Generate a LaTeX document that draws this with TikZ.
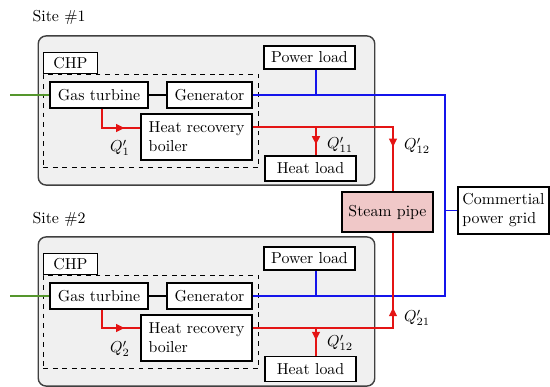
\documentclass[tikz,border=0pt]{standalone}
\usepackage{tikz}
\usetikzlibrary{positioning,arrows.meta,fit,decorations.markings}
\definecolor{sitegray}{RGB}{240,240,240}
\definecolor{pipepink}{RGB}{240,200,200}
\definecolor{heatred}{RGB}{228,20,20}
\definecolor{powerblue}{RGB}{20,20,235}
\definecolor{fuelgreen}{RGB}{85,150,45}
\tikzset{
    sitebox/.style={draw=black!75, fill=sitegray, rounded corners=5pt, line width=0.9pt, minimum width=212pt, minimum height=94pt},
    unitbox/.style={draw, fill=white, line width=0.9pt, align=left, inner sep=2pt},
    chpbox/.style={draw, dashed, line width=0.7pt, inner xsep=3.8pt, inner ysep=4.2pt},
    chptab/.style={draw, fill=white, line width=0.9pt, minimum width=34pt, minimum height=13.2pt, inner sep=1pt},
    pipebox/.style={draw, fill=pipepink, line width=0.9pt, minimum width=57.3pt, minimum height=25.2pt},
    qlabel/.style={inner sep=1pt},
    fuelline/.style={draw=fuelgreen, line width=1pt},
    shaftline/.style={draw, line width=1.2pt},
    powerline/.style={draw=powerblue, line width=1pt},
    heatline/.style={draw=heatred, line width=1pt},
    flowarrow/.style={postaction={decorate}, decoration={markings,
        mark=at position #1 with {\arrow{Triangle[length=5.2pt, width=5pt]}}}}
}

\begin{document}
\begin{tikzpicture}[x=0.63pt, y=-0.63pt]
    \useasboundingbox (0,0) rectangle (550,387);

    % site 1
    \node (site1label) at (59,17) {Site \#1};
    \node[sitebox] (site1) at (206.5,110.5) {};
    \node[unitbox, minimum width=61.7pt, minimum height=16.4pt] (gt1) at (99,95) {Gas turbine};
    \node[unitbox, minimum width=53.6pt, minimum height=16.4pt] (gen1) at (209.5,95) {Generator};
    \node[unitbox, minimum width=70pt, minimum height=29pt] (boiler1) at (196.5,137) {Heat recovery\\boiler};
    \node[chpbox, fit=(gt1)(gen1)(boiler1)] (chp1) {};
    \node[chptab, anchor=south west] (chp1tab) at (chp1.north west) {CHP};
    \node[unitbox, minimum width=57.3pt, minimum height=14.5pt] (pl1) at (309.5,57.5) {Power load};
    \node[unitbox, minimum width=57.3pt, minimum height=15.8pt] (hl1) at (310.5,168.5) {Heat load};

    % site 2
    \node (site2label) at (59,219) {Site \#2};
    \node[sitebox] (site2) at (206.5,311.5) {};
    \node[unitbox, minimum width=61.7pt, minimum height=16.4pt] (gt2) at (99,296) {Gas turbine};
    \node[unitbox, minimum width=53.6pt, minimum height=16.4pt] (gen2) at (209.5,296) {Generator};
    \node[unitbox, minimum width=70pt, minimum height=29pt] (boiler2) at (196.5,338) {Heat recovery\\boiler};
    \node[chpbox, fit=(gt2)(gen2)(boiler2)] (chp2) {};
    \node[chptab, anchor=south west] (chp2tab) at (chp2.north west) {CHP};
    \node[unitbox, minimum width=57.3pt, minimum height=14.5pt] (pl2) at (309.5,258.5) {Power load};
    \node[unitbox, minimum width=57.3pt, minimum height=15.8pt] (hl2) at (310.5,369) {Heat load};

    % shared
    \node[pipebox] (steam) at (387.5,212) {Steam pipe};
    \node[unitbox, minimum width=57.3pt, minimum height=29.6pt] (grid) at (503.5,210.5) {Commertial\\power grid};

    \coordinate (fuel1) at (10,95);
    \coordinate (fuel2) at (10,296);
    \coordinate (ebus1) at (445,95);
    \coordinate (ebus2) at (445,296);
    \coordinate (ptap1) at (316,95);
    \coordinate (ptap2) at (316,296);
    \coordinate (bend1) at (102,128);
    \coordinate (bend2) at (102,328);
    \coordinate (htap1) at (316,127);
    \coordinate (htap2) at (316,328);
    \coordinate (stap1) at (393,127);
    \coordinate (stap2) at (393,328);

    \draw[fuelline] (fuel1) -- (gt1.west);
    \draw[fuelline] (fuel2) -- (gt2.west);
    \draw[shaftline] (gt1.east) -- (gen1.west);
    \draw[shaftline] (gt2.east) -- (gen2.west);

    \draw[powerline] (gen1.east) -- (ebus1) -- (ebus2) -- (gen2.east);
    \draw[powerline] (pl1.south -| ptap1) -- (ptap1);
    \draw[powerline] (pl2.south -| ptap2) -- (ptap2);
    \draw[powerline] (grid.west) -- (grid.west -| ebus1);

    \draw[heatline, flowarrow=-10pt] (gt1.south -| bend1) -- (bend1) -- (bend1 -| boiler1.west);
    \draw[heatline, flowarrow=-10pt] (gt2.south -| bend2) -- (bend2) -- (bend2 -| boiler2.west);
    \draw[heatline, flowarrow=-28pt] (boiler1.east |- stap1) -- (stap1) -- (stap1 |- steam.north);
    \draw[heatline, flowarrow=101pt] (boiler2.east |- stap2) -- (stap2) -- (stap2 |- steam.south);
    \draw[heatline, flowarrow=11pt] (htap1) -- (htap1 |- hl1.north);
    \draw[heatline, flowarrow=7.6pt] (htap2) -- (htap2 |- hl2.north);

    \node[qlabel] (q1) at (120,148) {$Q'_1$};
    \node[qlabel] (q2) at (120,349) {$Q'_2$};
    \node[qlabel] (q11) at (340,145) {$Q'_{11}$};
    \node[qlabel] (q12a) at (417,146) {$Q'_{12}$};
    \node[qlabel] (q12b) at (340,343) {$Q'_{12}$};
    \node[qlabel] (q21) at (417,318) {$Q'_{21}$};
\end{tikzpicture}
\end{document}
